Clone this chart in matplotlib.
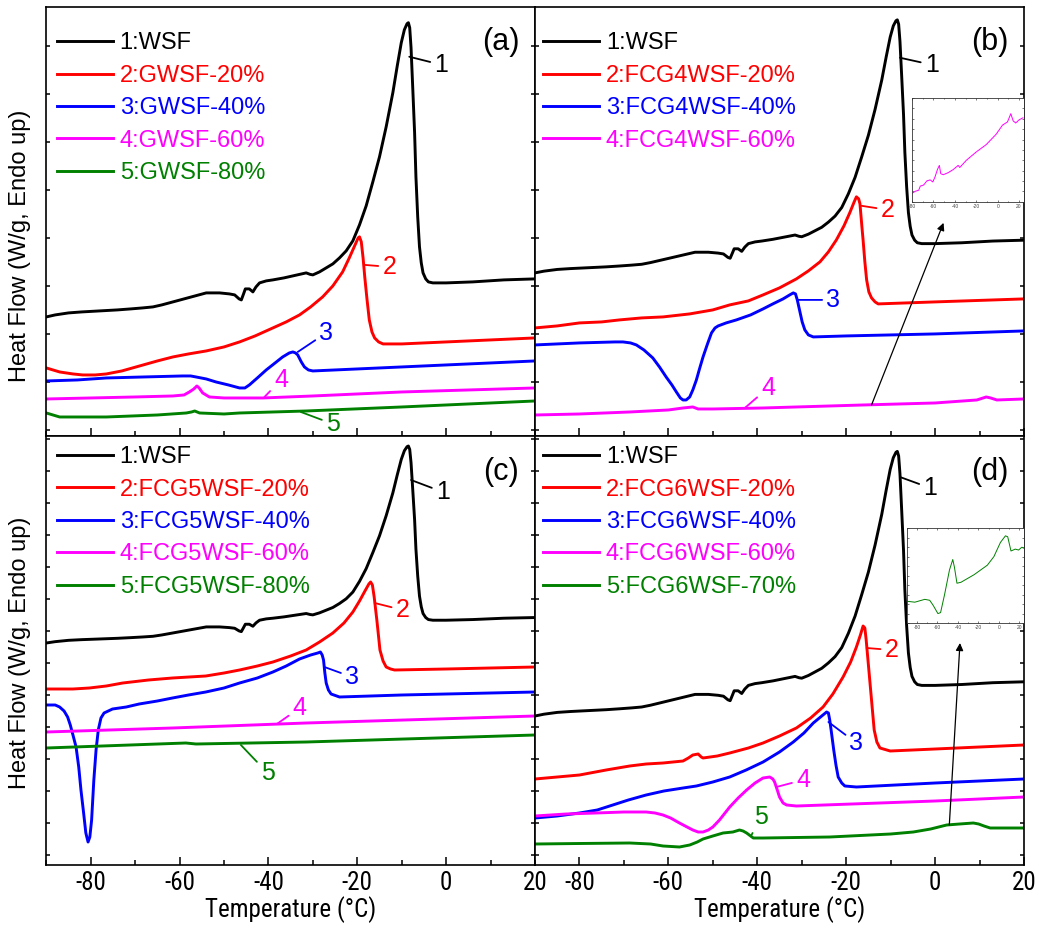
import matplotlib
matplotlib.use("Agg")
import matplotlib.pyplot as plt
from matplotlib import font_manager
from matplotlib.ticker import MultipleLocator, NullFormatter
import numpy as np

plt.rcParams['font.family'] = ['Liberation Sans', 'DejaVu Sans']
plt.rcParams['axes.unicode_minus'] = False

# axis numbers in the original use a narrow face; take one if it is installed
narrow = dict(family='Liberation Sans', stretch='normal')
_fonts = font_manager.fontManager.ttflist
for fam in ['Liberation Sans Narrow', 'Arial Narrow', 'Roboto Condensed']:
    if any(f.name == fam for f in _fonts):
        narrow = dict(family=fam, stretch='normal')
        break
else:
    for fam in ['Liberation Sans', 'Roboto', 'Open Sans', 'Noto Sans', 'DejaVu Sans']:
        if any(f.name == fam and f.stretch in ('condensed', 'semi-condensed') for f in _fonts):
            narrow = dict(family=fam, stretch='condensed')
            break

colors = ["black", "red", "blue", "magenta", "green"]

# legend names per panel
names_a = ["1:WSF", "2:GWSF-20%", "3:GWSF-40%", "4:GWSF-60%", "5:GWSF-80%"]
names_b = ["1:WSF", "2:FCG4WSF-20%", "3:FCG4WSF-40%", "4:FCG4WSF-60%"]
names_c = ["1:WSF", "2:FCG5WSF-20%", "3:FCG5WSF-40%", "4:FCG5WSF-60%", "5:FCG5WSF-80%"]
names_d = ["1:WSF", "2:FCG6WSF-20%", "3:FCG6WSF-40%", "4:FCG6WSF-60%", "5:FCG6WSF-70%"]

# curve 1 (WSF); the other panels show the same run
# shifted and rescaled
wsf_temp = [-90, -88, -85, -82, -78, -74, -71, -68.3, -66, -64,
            -61.5, -59, -56.5, -54, -51, -48.8, -47.6, -46.6, -46.1, -45.6,
            -45.2, -44.3, -43.5, -42.8, -42, -40.5, -39, -36.5, -34.5, -32.5,
            -31.5, -30.6, -30, -28.5, -27, -25.5, -24, -22.5, -21, -19.5,
            -18, -16.5, -15, -13.5, -12, -11, -10.1, -9.4, -8.8, -8.5,
            -8.2, -7.9, -7.5, -7.1, -6.8, -6.4, -6.0, -5.6, -5.2, -4.6,
            -4.0, -3.0, 0, 6, 13, 20]
wsf_hf = [1.13, 1.15, 1.17, 1.18, 1.19, 1.20, 1.21, 1.22, 1.23, 1.25,
          1.28, 1.31, 1.34, 1.37, 1.37, 1.36, 1.35, 1.31, 1.30, 1.36,
          1.41, 1.41, 1.38, 1.43, 1.47, 1.49, 1.50, 1.52, 1.54, 1.56,
          1.57, 1.555, 1.55, 1.58, 1.62, 1.66, 1.72, 1.79, 1.89, 2.05,
          2.24, 2.48, 2.73, 3.03, 3.37, 3.64, 3.87, 4.00, 4.06, 4.07,
          4.02, 3.82, 3.40, 2.97, 2.53, 2.13, 1.83, 1.67, 1.57, 1.51,
          1.48, 1.47, 1.47, 1.48, 1.50, 1.51]
wsf_offset = [1.13, 1.57, 2.12, 1.39]
wsf_scale = [1.0, 0.86, 0.67, 0.90]

# panel (a)
a2_temp = [-90, -87, -84, -81.8, -79, -76.5, -73, -69, -65, -61.5,
           -58, -54, -50, -46.5, -43, -39, -36, -33, -30.5, -27.8,
           -25.5, -23.3, -21.8, -20.6, -19.8, -19.5, -19.1, -18.7, -18.3, -17.8,
           -17.3, -16.7, -16.1, -15.2, -14.2, -10, 0, 10, 20]
a2_hf = [0.62, 0.58, 0.56, 0.55, 0.55, 0.56, 0.59, 0.64, 0.69, 0.73,
         0.76, 0.79, 0.83, 0.88, 0.94, 1.02, 1.08, 1.15, 1.23, 1.33,
         1.44, 1.58, 1.72, 1.84, 1.92, 1.93, 1.88, 1.72, 1.52, 1.30,
         1.10, 0.98, 0.92, 0.88, 0.86, 0.86, 0.88, 0.90, 0.92]
a3_temp = [-90, -83, -76.5, -68, -59.3, -57.5, -56.3, -54, -51.8, -49,
           -46.5, -45.3, -44.3, -42.5, -40.5, -38.5, -36.8, -35.3, -34.5, -33.9,
           -33.4, -32.6, -31.9, -31, -30, -20, 0, 20]
a3_hf = [0.49, 0.50, 0.52, 0.53, 0.54, 0.54, 0.53, 0.51, 0.48, 0.45,
         0.42, 0.42, 0.45, 0.52, 0.60, 0.67, 0.73, 0.77, 0.78, 0.77,
         0.75, 0.68, 0.63, 0.60, 0.59, 0.61, 0.65, 0.69]
a4_temp = [-90, -80, -70, -61.5, -59, -57.8, -56.8, -56.1, -55.6, -54.8,
           -53.3, -50, -41.3, -30, -10, 20]
a4_hf = [0.31, 0.32, 0.33, 0.34, 0.35, 0.38, 0.41, 0.44, 0.42, 0.37,
         0.33, 0.32, 0.32, 0.34, 0.38, 0.42]
a5_temp = [-90, -88.5, -87, -80, -76.5, -65, -58.5, -57.3, -56.6, -55.5,
           -50, -46.5, -31.5, -10, 20]
a5_hf = [0.17, 0.15, 0.13, 0.13, 0.13, 0.15, 0.17, 0.18, 0.19, 0.17,
         0.16, 0.17, 0.19, 0.23, 0.29]

# panel (b)
b2_temp = [-90, -85, -80, -75, -71, -66, -61.2, -55.2, -50, -46.2,
           -42, -38.7, -35, -31.2, -28.5, -25.9, -24, -22.2, -20.5, -19.2,
           -18.2, -17.7, -17.2, -16.9, -16.5, -16.2, -15.8, -15.4, -14.9, -14.3,
           -13.5, -12.8, 0, 20]
b2_hf = [1.02, 1.04, 1.07, 1.08, 1.10, 1.12, 1.13, 1.16, 1.20, 1.25,
         1.29, 1.35, 1.42, 1.51, 1.59, 1.68, 1.78, 1.90, 2.04, 2.17,
         2.28, 2.33, 2.31, 2.26, 2.05, 1.90, 1.68, 1.50, 1.38, 1.32,
         1.28, 1.26, 1.28, 1.31]
b3_temp = [-90, -80, -72, -70.2, -68.5, -67.2, -65.5, -63.5, -62, -60.5,
           -59.2, -58.2, -57.3, -56.7, -56, -55.2, -54.5, -53.7, -53, -52.2,
           -51.2, -50.3, -49.5, -48.8, -47, -44.7, -41.5, -38.7, -36.5, -34.2,
           -32.7, -31.9, -31.4, -31, -30.4, -29.9, -29.3, -28.5, -27.4, -20,
           0, 20]
b3_hf = [0.85, 0.87, 0.88, 0.88, 0.87, 0.85, 0.80, 0.72, 0.63, 0.53,
         0.45, 0.38, 0.32, 0.30, 0.30, 0.33, 0.40, 0.50, 0.61, 0.73,
         0.86, 0.97, 1.02, 1.04, 1.07, 1.10, 1.15, 1.21, 1.26, 1.31,
         1.35, 1.37, 1.36, 1.30, 1.18, 1.08, 1.00, 0.95, 0.93, 0.94,
         0.96, 0.99]
b4_temp = [-90, -80, -68.7, -60, -56.7, -54.5, -53.3, -50, -38.7, -16.2,
           0, 9.4, 11.5, 12.5, 13.9, 20]
b4_hf = [0.15, 0.16, 0.18, 0.20, 0.22, 0.23, 0.21, 0.21, 0.22, 0.25,
         0.27, 0.30, 0.33, 0.32, 0.30, 0.31]

# panel (c)
c2_temp = [-90, -84, -80.3, -76.5, -72.8, -67, -61.6, -54.1, -50, -46.5,
           -42.5, -39, -35, -31.5, -28.5, -25.5, -23, -21, -19.5, -18.4,
           -17.4, -17, -16.6, -16.2, -15.6, -15.2, -14.9, -14.2, -13.5, -12.5,
           -11.6, 0, 20]
c2_hf = [1.66, 1.66, 1.67, 1.69, 1.72, 1.75, 1.77, 1.79, 1.82, 1.85,
         1.89, 1.93, 1.99, 2.05, 2.13, 2.22, 2.32, 2.43, 2.54, 2.63,
         2.71, 2.73, 2.70, 2.58, 2.35, 2.18, 2.05, 1.94, 1.88, 1.86,
         1.85, 1.86, 1.88]
c3_temp = [-90, -88, -87, -86, -85.2, -84.6, -84, -83.3, -82.7, -82.2,
           -81.6, -81.1, -80.6, -80.2, -79.8, -79.3, -78.8, -78.3, -77.7, -77,
           -75.1, -72, -69.1, -65, -61.6, -58, -54.1, -50, -46.5, -42.5,
           -39, -36, -33, -30.5, -28.9, -28.3, -27.9, -27.6, -27.3, -27,
           -26.5, -25.9, -24, -10, 20]
c3_hf = [1.50, 1.50, 1.48, 1.44, 1.38, 1.30, 1.20, 1.08, 0.88, 0.65,
         0.42, 0.22, 0.13, 0.18, 0.35, 0.75, 1.05, 1.25, 1.37, 1.42,
         1.46, 1.48, 1.51, 1.54, 1.57, 1.60, 1.63, 1.67, 1.72, 1.77,
         1.83, 1.89, 1.96, 2.00, 2.02, 2.03, 2.00, 1.95, 1.82, 1.72,
         1.65, 1.61, 1.58, 1.60, 1.63]
c4_temp = [-90, -61.6, -31.5, 20]
c4_hf = [1.23, 1.27, 1.32, 1.39]
c5_temp = [-90, -58.6, -56.3, -31.5, 20]
c5_hf = [1.07, 1.12, 1.11, 1.13, 1.20]

# panel (d)
d2_temp = [-90, -85, -80, -74, -68.7, -65, -61.2, -56.7, -55.5, -54.5,
           -53.3, -52.6, -52.2, -49, -46.2, -42, -38.7, -35, -31.2, -28,
           -25.2, -23, -20.7, -19, -17.7, -16.8, -16.2, -15.8, -15.5, -15.1,
           -14.7, -14.2, -13.7, -13.1, -12.4, -10.1, 0, 20]
d2_hf = [0.76, 0.78, 0.80, 0.85, 0.89, 0.91, 0.92, 0.94, 0.97, 1.00,
         1.01, 0.98, 0.97, 0.99, 1.02, 1.07, 1.12, 1.19, 1.27, 1.37,
         1.48, 1.61, 1.78, 1.93, 2.08, 2.20, 2.29, 2.27, 2.15, 1.95,
         1.75, 1.50, 1.25, 1.13, 1.07, 1.04, 1.06, 1.10]
d3_temp = [-90, -85, -80, -76, -72.5, -69, -65, -61, -56.7, -53.7,
           -50, -46.2, -42.5, -38.7, -35, -31.9, -29.5, -27.4, -25.5, -24.4,
           -24, -23.7, -23.3, -22.8, -22.3, -21.8, -21, -20.3, -17.7, 0,
           20]
d3_hf = [0.37, 0.39, 0.42, 0.45, 0.50, 0.55, 0.60, 0.64, 0.67, 0.69,
         0.73, 0.78, 0.85, 0.93, 1.03, 1.13, 1.22, 1.32, 1.39, 1.43,
         1.42, 1.35, 1.22, 1.05, 0.90, 0.78, 0.72, 0.69, 0.68, 0.72,
         0.76]
d4_temp = [-90, -83, -76.3, -70, -65, -63, -61.2, -59.5, -57.5, -55.8,
           -54.5, -53.3, -52.2, -51, -50, -48.5, -46.2, -44.3, -42.4, -40.5,
           -38.7, -37.2, -36.5, -36.1, -35.5, -35, -34.2, -33.4, -31.2, 0,
           20]
d4_hf = [0.39, 0.41, 0.42, 0.43, 0.43, 0.42, 0.40, 0.37, 0.32, 0.28,
         0.25, 0.23, 0.23, 0.25, 0.28, 0.35, 0.48, 0.57, 0.65, 0.72,
         0.77, 0.78, 0.76, 0.73, 0.65, 0.58, 0.52, 0.50, 0.49, 0.54,
         0.58]
d5_temp = [-90, -80, -68.7, -64, -61.2, -57.5, -55.2, -53.5, -52.2, -50,
           -47.7, -45.5, -44, -43.2, -42.4, -41.5, -40.9, -38.7, -23.7, -10,
           -4.9, -1, 2.6, 5.5, 8.6, 9.8, 11, 12.4, 20]
d5_hf = [0.11, 0.115, 0.12, 0.11, 0.09, 0.08, 0.10, 0.13, 0.16, 0.19,
         0.22, 0.23, 0.25, 0.24, 0.22, 0.19, 0.17, 0.17, 0.18, 0.21,
         0.23, 0.26, 0.30, 0.31, 0.32, 0.31, 0.29, 0.27, 0.27]

# insets: enlarged curve 4 of (b) and curve 5 of (d)
inset_b_temp = [-80, -76.9, -73.8, -72.3, -69.2, -66.2, -63.1, -60.6, -58.5, -56.3,
                -54.5, -53.2, -50.8, -46.2, -41.5, -36.9, -35.4, -29.2, -20, -10.8,
                -1.5, 4.6, 9.2, 12.3, 14.5, 16.9, 20, 23.7]
inset_b_hf = [0.08, 0.10, 0.11, 0.15, 0.16, 0.20, 0.21, 0.19, 0.24, 0.31,
              0.35, 0.27, 0.26, 0.28, 0.31, 0.35, 0.33, 0.40, 0.48, 0.55,
              0.65, 0.74, 0.77, 0.85, 0.78, 0.76, 0.79, 0.81]
inset_d_temp = [-90, -82, -72.3, -67.5, -64.3, -59.5, -56.9, -53, -48.2, -45,
                -43.4, -40.9, -37, -24.2, -11.3, -4.9, 1.5, 6.4, 8.6, 11.8,
                16, 19.2, 22.4, 24]
inset_d_hf = [0.23, 0.22, 0.25, 0.24, 0.19, 0.10, 0.11, 0.30, 0.56, 0.67,
              0.59, 0.42, 0.43, 0.51, 0.61, 0.70, 0.85, 0.92, 0.91, 0.76,
              0.78, 0.77, 0.80, 0.79]

# curve number labels: (text, point on curve, text position)
marks_a = [("1", (-8.3, 3.73), (-1.1, 3.65)), ("2", (-18.4, 1.65), (-12.8, 1.63)),
           ("3", (-33.4, 0.78), (-27.0, 0.97)), ("4", (-40.9, 0.33), (-37.2, 0.50)),
           ("5", (-32.7, 0.18), (-25.5, 0.06))]
marks_b = [("1", (-7.9, 3.72), (-0.75, 3.65)), ("2", (-16.5, 2.24), (-10.7, 2.20)),
           ("3", (-30.8, 1.30), (-22.9, 1.30)), ("4", (-42.8, 0.22), (-37.6, 0.42))]
marks_c = [("1", (-7.9, 3.75), (-0.75, 3.63)), ("2", (-16.1, 2.52), (-9.8, 2.45)),
           ("3", (-27.4, 1.88), (-21.2, 1.78)), ("4", (-38.1, 1.31), (-33.0, 1.47)),
           ("5", (-46.2, 1.10), (-40.2, 0.82))]
marks_d = [("1", (-7.9, 3.78), (-1.1, 3.67)), ("2", (-15.4, 2.07), (-9.8, 2.05)),
           ("3", (-24.0, 1.33), (-17.7, 1.12)), ("4", (-35.7, 0.68), (-29.7, 0.75)),
           ("5", (-41.3, 0.20), (-39.1, 0.38))]

W, H = 1045, 936
fig = plt.figure(figsize=(W / 100, H / 100), dpi=100)

x0, xm, x1 = 46.3, 535, 1024
y0, ym, y1 = 6.7, 436, 865
boxes = [(x0, y0, xm, ym), (xm, y0, x1, ym), (x0, ym, xm, y1), (xm, ym, x1, y1)]
axes = []
for (l, t, r, b) in boxes:
    ax = fig.add_axes([l / W, 1 - b / H, (r - l) / W, (b - t) / H])
    axes.append(ax)

panels = [
    ("(a)", names_a, [(a2_temp, a2_hf), (a3_temp, a3_hf), (a4_temp, a4_hf), (a5_temp, a5_hf)], marks_a),
    ("(b)", names_b, [(b2_temp, b2_hf), (b3_temp, b3_hf), (b4_temp, b4_hf)], marks_b),
    ("(c)", names_c, [(c2_temp, c2_hf), (c3_temp, c3_hf), (c4_temp, c4_hf), (c5_temp, c5_hf)], marks_c),
    ("(d)", names_d, [(d2_temp, d2_hf), (d3_temp, d3_hf), (d4_temp, d4_hf), (d5_temp, d5_hf)], marks_d),
]
ylims = [(-0.06, 4.23), (-0.06, 4.23), (-0.10, 4.19), (-0.10, 4.19)]

for i, (ax, (tag, names, others, marks)) in enumerate(zip(axes, panels)):
    base = np.array(wsf_hf)
    hf1 = wsf_offset[i] + wsf_scale[i] * (base - base[0])
    lines = []
    ln, = ax.plot(wsf_temp, hf1, color=colors[0], lw=2.1, solid_joinstyle='round')
    lines.append(ln)
    for k, (tt, hh) in enumerate(others):
        ln, = ax.plot(tt, hh, color=colors[k + 1], lw=2.1, solid_joinstyle='round')
        lines.append(ln)

    for txt, pt, tp in marks:
        c = colors[int(txt) - 1]
        ax.annotate(txt, xy=pt, xytext=tp, color=c, fontsize=18,
                    ha='center', va='center',
                    arrowprops=dict(arrowstyle='-', color=c, lw=1.3,
                                    shrinkA=1, shrinkB=0))

    leg_y = 0.940 if i < 2 else 0.976
    leg_x = 0.022 if i % 2 == 0 else 0.017
    ax.legend(lines, names, loc='upper left', bbox_to_anchor=(leg_x, leg_y),
              frameon=False, fontsize=17, handlelength=2.35, handletextpad=0.3,
              labelspacing=0.44, borderpad=0, borderaxespad=0,
              labelcolor='linecolor')

    ax.text(0.93, 0.917, tag, transform=ax.transAxes, fontsize=22,
            ha='center', va='center')

    ax.set_xlim(-90, 20)
    ax.set_ylim(*ylims[i])
    ax.xaxis.set_major_locator(MultipleLocator(20))
    ax.xaxis.set_minor_locator(MultipleLocator(10))
    ax.yaxis.set_major_locator(MultipleLocator(0.48 if i < 2 else 0.32))
    ax.yaxis.set_major_formatter(NullFormatter())
    ax.tick_params(axis='both', which='major', direction='in', length=6, width=1.1,
                   right=True, top=False)
    ax.tick_params(axis='x', which='minor', direction='in', length=3.5, width=1.1,
                   top=False)
    ax.tick_params(axis='y', which='major', length=3)
    for s in ax.spines.values():
        s.set_linewidth(1.2)
    if i < 2:
        ax.xaxis.set_major_formatter(NullFormatter())
    else:
        for lab in ax.get_xticklabels():
            lab.set_family(narrow['family'])
            lab.set_stretch(narrow['stretch'])
            lab.set_fontsize(18)
        ax.tick_params(axis='x', pad=4)
        ax.set_xlabel("Temperature (°C)", family=narrow['family'],
                      stretch=narrow['stretch'], fontsize=18, labelpad=1)

# insets
def draw_inset(ax, rect, tt, hh, color, xlim):
    ins = ax.inset_axes(rect)
    ins.plot(tt, hh, color=color, lw=0.7)
    ins.set_xlim(*xlim)
    ins.set_ylim(0, 1)
    ins.set_xticks([-80, -60, -40, -20, 0, 20])
    ins.xaxis.set_minor_locator(MultipleLocator(10))
    ins.yaxis.set_major_locator(MultipleLocator(0.1))
    ins.yaxis.set_major_formatter(NullFormatter())
    ins.tick_params(direction='in', length=1.5, width=0.5, labelsize=3.5,
                    pad=1.5, right=True, top=True, colors='#444444')
    ins.tick_params(which='minor', direction='in', length=1, width=0.4, top=True)
    for s in ins.spines.values():
        s.set_linewidth(0.6)
        s.set_color('#333333')
    return ins

draw_inset(axes[1], [0.770, 0.546, 0.2297, 0.241], inset_b_temp, inset_b_hf,
           colors[3], (-80.5, 24.5))
draw_inset(axes[3], [0.760, 0.564, 0.240, 0.221], inset_d_temp, inset_d_hf,
           colors[4], (-90, 24.5))

# arrows pointing from the small curves up to their insets
axes[1].annotate('', xy=(1.9, 2.07), xytext=(-14.3, 0.25),
                 arrowprops=dict(arrowstyle='-|>', color='black', lw=0.9,
                                 mutation_scale=11, shrinkA=0, shrinkB=0))
axes[3].annotate('', xy=(5.6, 2.12), xytext=(3.2, 0.30),
                 arrowprops=dict(arrowstyle='-|>', color='black', lw=0.9,
                                 mutation_scale=11, shrinkA=0, shrinkB=0))

fig.text(20 / W, 1 - 246 / H, "Heat Flow (W/g, Endo up)", rotation=90,
         ha='center', va='center', fontsize=17)
fig.text(20 / W, 1 - 653 / H, "Heat Flow (W/g, Endo up)", rotation=90,
         ha='center', va='center', fontsize=17)

fig.savefig("out.png", dpi=100, facecolor='white')
